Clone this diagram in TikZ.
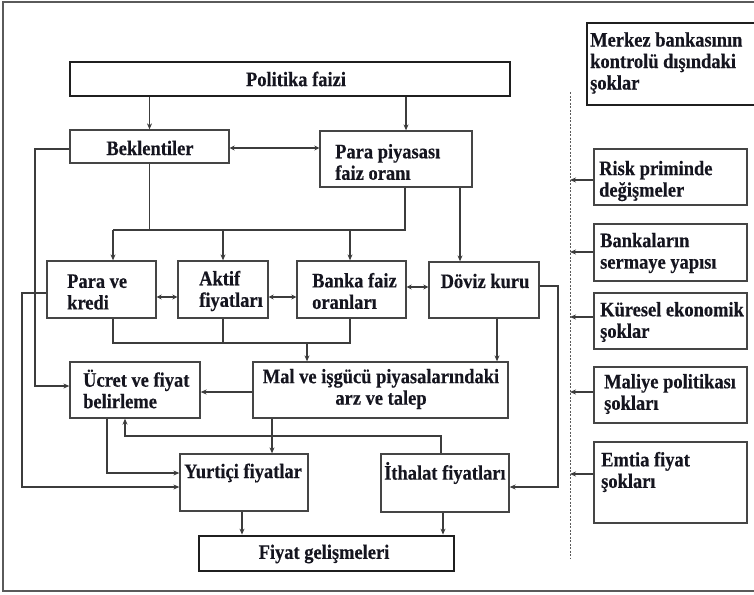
\documentclass[tikz,border=0pt]{standalone}
\usepackage{fontspec}
\setmainfont{Liberation Serif}
\newfontfamily\figfont{Liberation Serif}[FakeStretch=0.9,FakeBold=0.4]
\usetikzlibrary{fit,arrows.meta}
\definecolor{lc}{HTML}{3C3C3C}
\definecolor{bc}{HTML}{454545}
\definecolor{tc}{HTML}{15151F}
\definecolor{fc}{HTML}{5A5A5A}
\begin{document}
\begin{tikzpicture}[x=1pt,y=-1pt,
  box/.style={draw=bc, line width=1.3pt, inner sep=0pt},
  tbox/.style={draw=black!88, line width=2.8pt, inner sep=0pt},
  txt/.style={inner sep=0pt, font=\figfont\bfseries\fontsize{20.5}{21.5}\selectfont, text=tc, align=left, anchor=west},
  ctxt/.style={txt, align=center, anchor=center},
  ln/.style={draw=lc, line width=1.1pt},
  arr/.style={ln, -{Stealth[length=6pt,width=5pt]}},
  darr/.style={ln, {Stealth[length=5pt,width=5pt]}-{Stealth[length=5pt,width=5pt]}},
  dline/.style={draw=fc, line width=0.9pt, dash pattern=on 2pt off 1.5pt}]
\useasboundingbox (0,0) rectangle (754,594);
\clip (0,0) rectangle (754,594);
% outer frame
\draw[draw=fc, line width=1.6pt] (3,2) rectangle (770,591);
% boxes
\node[tbox, fit={(70,62) (510,96)}] (pol) {};
\node[box, fit={(70,130) (229,163)}] (bek) {};
\node[box, fit={(320,131) (472,187)}] (ppf) {};
\node[box, fit={(47,261) (156,318)}] (pvk) {};
\node[box, fit={(178,261) (268,318)}] (akt) {};
\node[box, fit={(297,261) (406,318)}] (ban) {};
\node[box, fit={(429,262) (539,318)}] (dov) {};
\node[box, fit={(70,362) (200,418)}] (ucr) {};
\node[box, fit={(253,362) (508,418)}] (mal) {};
\node[box, fit={(180,454) (308,511)}] (yur) {};
\node[box, fit={(381,454) (509,512)}] (ith) {};
\node[tbox, fit={(199,536) (454,571)}] (fiy) {};
\node[tbox, fit={(587,23) (775,105)}] (mer) {};
\node[box, fit={(594,149) (747,205)}] (ris) {};
\node[box, fit={(594,224) (747,281)}] (bnk) {};
\node[box, fit={(594,293) (747,349)}] (kur) {};
\node[box, fit={(594,367) (747,423)}] (mly) {};
\node[box, fit={(594,442) (747,523)}] (emt) {};
% texts
\node[ctxt] (tpol) at (296,79) {Politika faizi};
\node[ctxt] (tbek) at (150,148) {Beklentiler};
\node[txt] (tppf) at (335,162) {Para piyasası\\faiz oranı};
\node[txt] (tpvk) at (67,292) {Para ve\\kredi};
\node[txt] (takt) at (199,291) {Aktif\\fiyatları};
\node[txt] (tban) at (312,291) {Banka faiz\\oranları};
\node[ctxt] (tdov) at (485,281) {Döviz kuru};
\node[ctxt] (tmal) at (381,389) {Mal ve işgücü piyasalarındaki\\arz ve talep};
\node[txt] (tucr) at (83,389) {Ücret ve fiyat\\belirleme};
\node[txt] (tyur) at (184,473) {Yurtiçi fiyatlar};
\node[txt] (tith) at (384,473) {İthalat fiyatları};
\node[ctxt] (tfiy) at (324,554) {Fiyat gelişmeleri};
\node[txt] (tmer) at (590,63) {Merkez bankasının\\kontrolü dışındaki\\şoklar};
\node[txt] (tris) at (599,181) {Risk priminde\\değişmeler};
\node[txt] (tbnk) at (600,253) {Bankaların\\sermaye yapısı};
\node[txt] (tkur) at (600,322) {Küresel ekonomik\\şoklar};
\node[txt] (tmly) at (604,394) {Maliye politikası\\şokları};
\node[txt] (temt) at (601,472) {Emtia fiyat\\şokları};
% helper columns and rows
\coordinate (c22) at (22,0);
\coordinate (c35) at (35,0);
\coordinate (c107) at (107,0);
\coordinate (c113) at (113,0);
\coordinate (c125) at (125,0);
\coordinate (c223) at (223,0);
\coordinate (c242) at (242,0);
\coordinate (c272) at (272,0);
\coordinate (c307) at (307,0);
\coordinate (c350) at (350,0);
\coordinate (c405) at (405,0);
\coordinate (c406) at (406,0);
\coordinate (c441) at (441,0);
\coordinate (c443) at (443,0);
\coordinate (c460) at (460,0);
\coordinate (c497) at (497,0);
\coordinate (c558) at (558,0);
\coordinate (r148) at (0,148);
\coordinate (r149) at (0,149);
\coordinate (r230) at (0,230);
\coordinate (r286) at (0,286);
\coordinate (r287) at (0,287);
\coordinate (r293) at (0,293);
\coordinate (r297) at (0,297);
\coordinate (r343) at (0,343);
\coordinate (r386) at (0,386);
\coordinate (r392) at (0,392);
\coordinate (r436) at (0,436);
\coordinate (r473) at (0,473);
\coordinate (r487) at (0,487);
\coordinate (r180) at (0,180);
\coordinate (r252) at (0,252);
\coordinate (r317) at (0,317);
\coordinate (r474) at (0,474);
\coordinate (dtop) at (570,92);
\coordinate (dbot) at (570,558);
% dashed separator
\draw[dline] (dtop) -- (dbot);
% connectors
\draw[arr] (pol.south -| bek.north) -- (bek.north);
\draw[arr] (pol.south -| c406) -- (ppf.north -| c406);
\draw[darr] (bek.east |- r148) -- (ppf.west |- r148);
\draw[arr] (bek.west |- r149) -- (c35 |- r149) -- (c35 |- r386) -- (ucr.west |- r386);
\draw[ln] (bek.south) -- (bek.south |- r230);
\draw[ln] (ppf.south -| c405) -- (c405 |- r230) -- (c113 |- r230);
\draw[arr] (c113 |- r230) -- (pvk.north -| c113);
\draw[arr] (c223 |- r230) -- (akt.north -| c223);
\draw[arr] (c350 |- r230) -- (ban.north -| c350);
\draw[arr] (ppf.south -| c460) -- (dov.north -| c460);
\draw[darr] (pvk.east |- r297) -- (akt.west |- r297);
\draw[darr] (akt.east |- r297) -- (ban.west |- r297);
\draw[darr] (ban.east |- r287) -- (dov.west |- r287);
\draw[ln] (pvk.south -| c113) -- (c113 |- r343) -- (c350 |- r343) -- (ban.south -| c350);
\draw[ln] (akt.south -| c223) -- (c223 |- r343);
\draw[arr] (c307 |- r343) -- (mal.north -| c307);
\draw[arr] (dov.south -| c497) -- (mal.north -| c497);
\draw[arr] (mal.west |- r392) -- (ucr.east |- r392);
\draw[arr] (pvk.west |- r293) -- (c22 |- r293) -- (c22 |- r487) -- (yur.west |- r487);
\draw[arr] (ucr.south -| c107) -- (c107 |- r473) -- (yur.west |- r473);
\draw[arr] (mal.south -| c272) -- (yur.north -| c272);
\draw[arr] (ith.north -| c441) -- (c441 |- r436) -- (c125 |- r436) -- (ucr.south -| c125);
\draw[arr] (dov.east |- r286) -- (c558 |- r286) -- (c558 |- r487) -- (ith.east |- r487);
\draw[arr] (yur.south -| c242) -- (fiy.north -| c242);
\draw[arr] (ith.south -| c443) -- (fiy.north -| c443);
\draw[arr] (ris.west |- r180) -- (dtop |- r180);
\draw[arr] (bnk.west |- r252) -- (dtop |- r252);
\draw[arr] (kur.west |- r317) -- (dtop |- r317);
\draw[arr] (mly.west |- r392) -- (dtop |- r392);
\draw[arr] (emt.west |- r474) -- (dtop |- r474);
\end{tikzpicture}
\end{document}
